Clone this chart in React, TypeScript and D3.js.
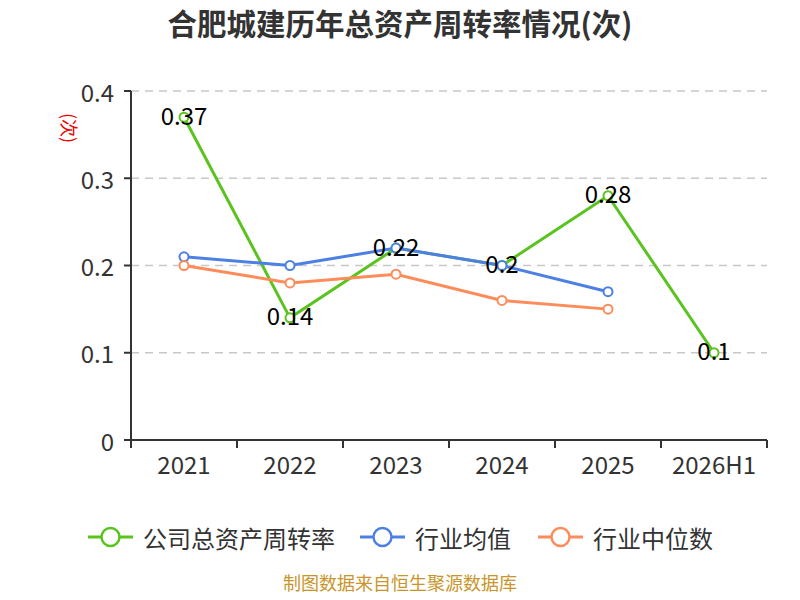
import * as d3 from 'd3';

const categories = ['2021', '2022', '2023', '2024', '2025', '2026H1'];
const companyValues = [0.37, 0.14, 0.22, 0.2, 0.28, 0.1];
const industryAvg = [0.21, 0.2, 0.22, 0.2, 0.17];
const industryMedian = [0.2, 0.18, 0.19, 0.16, 0.15];
const yTicks = [0, 0.1, 0.2, 0.3, 0.4];

const seriesList = [
  { name: '公司总资产周转率', values: companyValues, color: '#5ac31f', labels: true },
  { name: '行业均值', values: industryAvg, color: '#4d80e4', labels: false },
  { name: '行业中位数', values: industryMedian, color: '#fd8c5a', labels: false },
];

const FONT = '"Noto Sans CJK SC", "Noto Sans", sans-serif';

export default function App() {
  const width = 800;
  const height = 600;
  const margin = { top: 91, right: 33, bottom: 160, left: 131 };

  const x = d3
    .scaleBand()
    .domain(categories)
    .range([margin.left, width - margin.right])
    .padding(0);
  const y = d3
    .scaleLinear()
    .domain([0, 0.4])
    .range([height - margin.bottom, margin.top]);

  const cx = (c: string) => x(c)! + x.bandwidth() / 2;

  const line = d3
    .line<number>()
    .x((_, i) => cx(categories[i]))
    .y((d) => y(d));

  const legendX = [88, 360, 538];

  return (
    <svg
      width={width}
      height={height}
      style={{ display: 'block', position: 'absolute', left: 0, top: 0 }}
      fontFamily={FONT}
    >
      <rect width={width} height={height} fill="#fff" />
      <text x={400} y={35} textAnchor="middle" fontSize={29.5} fontWeight="bold" fill="#333">
        合肥城建历年总资产周转率情况(次)
      </text>

      {/* grid */}
      {yTicks.slice(1).map((t) => (
        <line
          key={t}
          x1={margin.left}
          x2={width - margin.right}
          y1={y(t)}
          y2={y(t)}
          stroke="#c8c8c8"
          strokeWidth={1.5}
          strokeDasharray="8,6"
        />
      ))}

      {/* y axis */}
      <line x1={margin.left} x2={margin.left} y1={y(0.4)} y2={y(0)} stroke="#333" strokeWidth={2} />
      {yTicks.map((t) => (
        <g key={t}>
          <line x1={margin.left - 7} x2={margin.left} y1={y(t)} y2={y(t)} stroke="#333" strokeWidth={2} />
          <text
            x={margin.left - 17}
            y={y(t)}
            textAnchor="end"
            dominantBaseline="central"
            fontSize={24}
            fill="#333"
          >
            {d3.format('')(t)}
          </text>
        </g>
      ))}
      <text
        transform={`translate(70,128) rotate(90)`}
        textAnchor="middle"
        dominantBaseline="central"
        fontSize={18}
        fill="#e00"
      >
        (次)
      </text>

      {/* x axis */}
      <line
        x1={margin.left}
        x2={width - margin.right}
        y1={y(0)}
        y2={y(0)}
        stroke="#333"
        strokeWidth={2}
      />
      {categories.concat(['']).map((c, i) => {
        const xp = margin.left + i * x.bandwidth();
        return <line key={i} x1={xp} x2={xp} y1={y(0)} y2={y(0) + 8} stroke="#333" strokeWidth={2} />;
      })}
      {categories.map((c) => (
        <text key={c} x={cx(c)} y={y(0) + 34} textAnchor="middle" fontSize={24} fill="#333">
          {c}
        </text>
      ))}

      {/* series */}
      {seriesList.map((s) => (
        <g key={s.name}>
          <path d={line(s.values)!} fill="none" stroke={s.color} strokeWidth={3} />
          {s.values.map((v, i) => (
            <circle
              key={i}
              cx={cx(categories[i])}
              cy={y(v)}
              r={4.5}
              fill="#fff"
              stroke={s.color}
              strokeWidth={2}
            />
          ))}
        </g>
      ))}
      {seriesList
        .filter((s) => s.labels)
        .map((s) =>
          s.values.map((v, i) => (
            <text
              key={i}
              x={cx(categories[i])}
              y={y(v) - 3}
              textAnchor="middle"
              dominantBaseline="central"
              fontSize={24}
              fill="#000"
            >
              {v}
            </text>
          ))
        )}

      {/* legend */}
      {seriesList.map((s, i) => (
        <g key={s.name} transform={`translate(${legendX[i]},537)`}>
          <line x1={0} x2={45} y1={0} y2={0} stroke={s.color} strokeWidth={3} />
          <circle cx={22.5} cy={0} r={9} fill="#fff" stroke={s.color} strokeWidth={2.5} />
          <text x={55} y={0} dominantBaseline="central" fontSize={24} fill="#333">
            {s.name}
          </text>
        </g>
      ))}

      <text x={400} y={590} textAnchor="middle" fontSize={18} fill="#c9952a">
        制图数据来自恒生聚源数据库
      </text>
    </svg>
  );
}
